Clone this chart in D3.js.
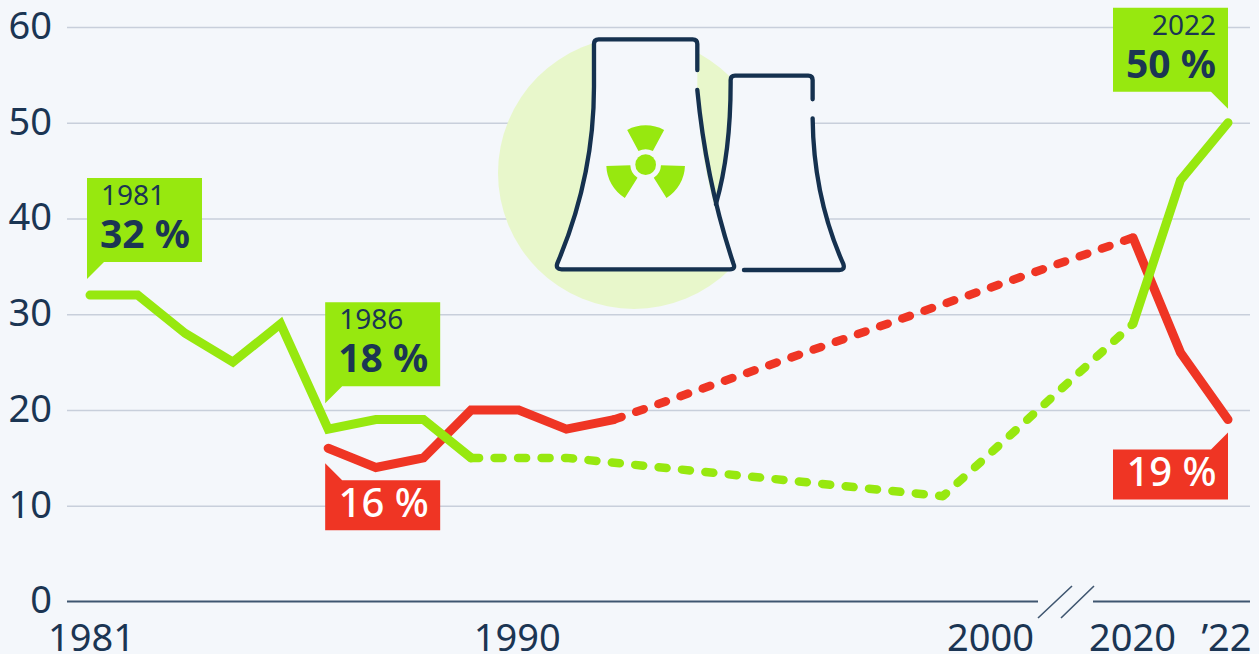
<!DOCTYPE html>
<html>
<head>
<meta charset="utf-8">
<script src="https://cdn.jsdelivr.net/npm/d3@7"></script>
<style>
  html, body { margin: 0; padding: 0; background: #f4f7fb; overflow: hidden; }
  text { font-family: "Noto Sans", sans-serif; }
</style>
</head>
<body>
<script>
// values
const yearsGreenStart = [1981, 1982, 1983, 1984, 1985, 1986, 1987, 1988, 1989];
const greenStart = [32, 32, 28, 25, 29, 18, 19, 19, 15];
const yearsGreenGap = [1989, 1991, 1999, 2020];
const greenGap = [15, 15, 11, 29];
const yearsGreenEnd = [2020, 2021, 2022];
const greenEnd = [29, 44, 50];

const yearsRedStart = [1986, 1987, 1988, 1989, 1990, 1991, 1992];
const redStart = [16, 14, 15, 20, 20, 18, 19];
const yearsRedGap = [1992, 2020];
const redGap = [19, 38];
const yearsRedEnd = [2020, 2021, 2022];
const redEnd = [38, 26, 19];

const yTicks = [0, 10, 20, 30, 40, 50, 60];
const xTicks = [1981, 1990, 2000, 2020, 2022];
const xTickLabels = ["1981", "1990", "2000", "2020", "’22"];

const green = "#97e80f", red = "#ef3524", navy = "#1b3553", bg = "#f4f7fb";

let width = 1259, height = 654;
let svg = d3.select("body").append("svg")
  .attr("width", width)
  .attr("height", height)
  .style("display", "block");
svg.append("rect").attr("width", width).attr("height", height).attr("fill", bg);

// the axis is broken between 2000 and 2020, so the scale has pieces
let xScale = d3.scaleLinear()
  .domain([1981, 1992, 2000, 2020, 2022])
  .range([90, 614, 990, 1133, 1228]);
let yScale = d3.scaleLinear().domain([0, 60]).range([601.5, 27]);

// gridlines and y labels
let yAxis = d3.axisLeft(yScale).tickValues(yTicks).tickSize(0).tickPadding(15);
let yAxisG = svg.append("g").attr("transform", "translate(67,0)").call(yAxis);
yAxisG.select(".domain").remove();
yAxisG.selectAll("text")
  .attr("font-size", 38).attr("fill", navy).attr("font-family", '"Noto Sans", sans-serif')
  .attr("dy", "0.3em");
yAxisG.selectAll("line")
  .filter(d => d !== 0)
  .attr("x2", 1183)
  .attr("stroke", "#c8cfdb")
  .attr("stroke-width", 1.5);

// baseline with the break marks
let baseline = svg.append("g").attr("stroke", "#3f5670").attr("stroke-width", 2).attr("fill", "none");
baseline.append("path").attr("d", `M67,${yScale(0)}H1038M1093,${yScale(0)}H1250`);
baseline.append("path").attr("stroke-width", 1.6).attr("d", "M1038,618L1072,586M1061,618L1094,586");

// x labels
let xAxis = d3.axisBottom(xScale).tickValues(xTicks).tickSize(0).tickPadding(0)
  .tickFormat((d, i) => xTickLabels[i]);
let xAxisG = svg.append("g").attr("transform", `translate(0,${yScale(0)})`).call(xAxis);
xAxisG.select(".domain").remove();
xAxisG.selectAll("text")
  .attr("font-size", 38).attr("fill", navy).attr("font-family", '"Noto Sans", sans-serif')
  .attr("y", 49).attr("dy", 0)
  .attr("x", (d, i) => [1, -2, 0, -1, -2][i]);

// power plant icon, drawn in 3x coordinates like the crop it was measured on
let icon = svg.append("g").attr("transform", "translate(480,20) scale(0.3333)");
icon.append("circle").attr("cx", 462).attr("cy", 459).attr("r", 408).attr("fill", "#e8f7cb");
icon.append("path")
  .attr("fill", bg)
  .attr("d", "M752,167H998V295C1000,480 1040,620 1092,735L1092,750H650L710,550C740,440 752,330 752,190Z");
icon.append("path")
  .attr("fill", bg)
  .attr("d", "M342,58H652V210C656,400 700,580 765,735V750H228V735C300,570 342,400 342,200Z");
let iconLines = icon.append("g")
  .attr("fill", "none").attr("stroke", "#15314f").attr("stroke-width", 13)
  .attr("stroke-linecap", "round").attr("stroke-linejoin", "round");
iconLines.append("path")
  .attr("d", "M652,150V72Q652,58 638,58H356Q342,58 342,72V200C342,400 300,570 232,730Q226,748 245,748H750Q768,748 760,730C725,625 675,450 652,210");
iconLines.append("path")
  .attr("d", "M708,552C740,440 752,330 752,190V180Q752,167 765,167H985Q998,167 998,180V238M998,295C1000,480 1040,620 1090,732Q1096,750 1078,750H792");
let blade = d3.arc().innerRadius(46).outerRadius(118);
let trefoil = icon.append("g").attr("transform", "translate(497,434)").attr("fill", green);
[0, 120, 240].forEach(a => {
  let rad = a * Math.PI / 180, half = 28 * Math.PI / 180;
  trefoil.append("path").attr("d", blade({ startAngle: rad - half, endAngle: rad + half }));
});
trefoil.append("circle").attr("r", 31);

// lines
let line = d3.line().x(d => xScale(d[0])).y(d => yScale(d[1]));
function drawLine(years, values, color, dotted) {
  let path = svg.append("path")
    .attr("d", line(d3.zip(years, values)))
    .attr("fill", "none")
    .attr("stroke", color)
    .attr("stroke-width", dotted ? 8.5 : 9)
    .attr("stroke-linejoin", dotted ? "round" : "miter")
    .attr("stroke-linecap", "round");
  if (dotted) path.attr("stroke-dasharray", "8 15.5");
}
drawLine(yearsGreenGap, greenGap, green, true);
drawLine(yearsRedGap, redGap, red, true);
drawLine(yearsRedStart, redStart, red, false);
drawLine(yearsRedEnd, redEnd, red, false);
drawLine(yearsGreenStart, greenStart, green, false);
drawLine(yearsGreenEnd, greenEnd, green, false);

// callouts: tip follows the data point, the box hangs off it
function callout(year, value, color, side, above, gap, yearLabel, label) {
  let x = xScale(year) - (side === "right" ? 3 : 0), y = yScale(value);
  let boxW = 115, tail = 17, boxH = yearLabel ? 84 : 50;
  let tipY = above ? y - gap : y + gap;
  let edgeY = above ? tipY - tail : tipY + tail;
  let farY = above ? edgeY - boxH : edgeY + boxH;
  let farX = side === "right" ? x + boxW : x - boxW;
  let joinX = side === "right" ? x + 17 : x - 17;
  let g = svg.append("g");
  g.append("path")
    .attr("fill", color)
    .attr("d", `M${x},${tipY}L${joinX},${edgeY}H${farX}V${farY}H${x}Z`);
  let left = Math.min(x, farX);
  if (yearLabel) {
    g.append("text")
      .attr("x", side === "right" ? left + 14 : left + 103)
      .attr("y", farY + 27)
      .attr("text-anchor", side === "right" ? "start" : "end")
      .attr("font-size", 28)
      .attr("fill", navy)
      .text(yearLabel);
    g.append("text")
      .attr("x", side === "right" ? left + 13 : left + 103)
      .attr("y", farY + 70)
      .attr("text-anchor", side === "right" ? "start" : "end")
      .attr("font-size", 39)
      .attr("font-weight", 700)
      .attr("fill", navy)
      .text(label);
  } else {
    g.append("text")
      .attr("x", left + 58.5)
      .attr("y", farY - 13.5)
      .attr("text-anchor", "middle")
      .attr("font-size", 40)
      .attr("font-weight", 500)
      .attr("fill", "#fff")
      .text(label);
  }
}
callout(1981, 32, green, "right", true, 16, "1981", "32 %");
callout(1986, 18, green, "right", true, 26, "1986", "18 %");
callout(1986, 16, red, "right", false, 15, null, "16 %");
callout(2022, 50, green, "left", true, 14, "2022", "50 %");
callout(2022, 19, red, "left", false, 13, null, "19 %");
</script>
</body>
</html>
